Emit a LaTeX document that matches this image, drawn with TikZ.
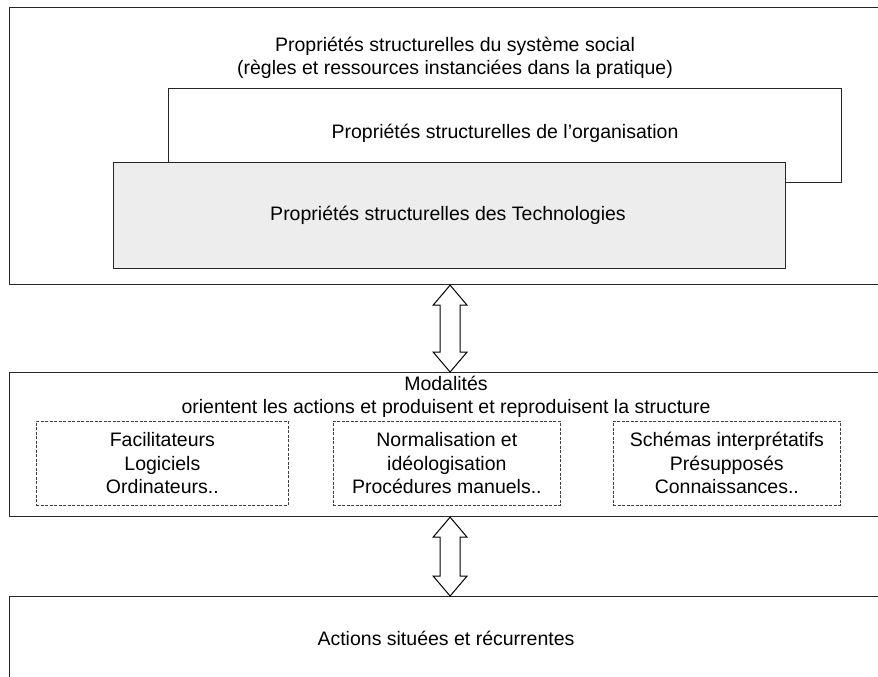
\documentclass[tikz,border=0pt]{standalone}
\usepackage{fontspec}
\setmainfont{Liberation Sans}
\usetikzlibrary{calc}
\begin{document}
\begin{tikzpicture}[x=1pt,y=-1pt,
  box/.style={draw=black!85, line width=1.2pt, inner sep=0pt, anchor=north west},
  dbox/.style={draw=black!75, line width=0.7pt, dash pattern=on 3pt off 1.5pt, inner sep=0pt, anchor=north west},
  txt/.style={font=\fontsize{19.5}{23.5}\selectfont, align=center, inner sep=0pt},
  arr/.style={draw=black, line width=1pt, fill=white, line join=miter}]
\clip (0,0) rectangle (878,677);
\useasboundingbox (0,0) rectangle (878,677);
% top system box
\node[box, minimum width=881pt, minimum height=277pt] (sys) at (9,7) {};
\node[box, fill=white, minimum width=673pt, minimum height=94pt] (org) at (168,88) {};
\node[box, fill=black!7, minimum width=672pt, minimum height=106pt] (tech) at (113,162) {};
\node[txt] (systxt) at (455,58) {Propriétés structurelles du système social\\(règles et ressources instanciées dans la pratique)};
\node[txt] (orgtxt) at (505,133) {Propriétés structurelles de l’organisation};
\node[txt] (techtxt) at (448,215) {Propriétés structurelles des Technologies};
% modalities
\node[box, minimum width=881pt, minimum height=144pt] (mod) at (9,372) {};
\node[txt] (modtxt) at (446,397) {Modalités\\orientent les actions et produisent et reproduisent la structure};
\node[dbox, minimum width=252pt, minimum height=84pt] (d1) at (36,421) {};
\node[dbox, minimum width=227pt, minimum height=84pt] (d2) at (333,421) {};
\node[dbox, minimum width=227pt, minimum height=84pt] (d3) at (613,421) {};
\node[txt] (d1txt) at (d1.center) {Facilitateurs\\Logiciels\\Ordinateurs..};
\node[txt] (d2txt) at (d2.center) {Normalisation et\\idéologisation\\Procédures manuels..};
\node[txt] (d3txt) at (d3.center) {Schémas interprétatifs\\Présupposés\\Connaissances..};
% actions
\node[box, minimum width=881pt, minimum height=110pt] (act) at (9,596) {};
\node[txt] (acttxt) at (446,638) {Actions situées et récurrentes};
% double arrows
\draw[arr] (sys.south) -- ++(17,20) -- ++(-7,0) -- ($(mod.north)+(10,-20)$) -- ++(7,0) -- (mod.north)
  -- ++(-17,-20) -- ++(7,0) -- ($(sys.south)+(-10,20)$) -- ++(-7,0) -- cycle;
\draw[arr] (mod.south) -- ++(17,20) -- ++(-7,0) -- ($(act.north)+(10,-20)$) -- ++(7,0) -- (act.north)
  -- ++(-17,-20) -- ++(7,0) -- ($(mod.south)+(-10,20)$) -- ++(-7,0) -- cycle;
\end{tikzpicture}
\end{document}
